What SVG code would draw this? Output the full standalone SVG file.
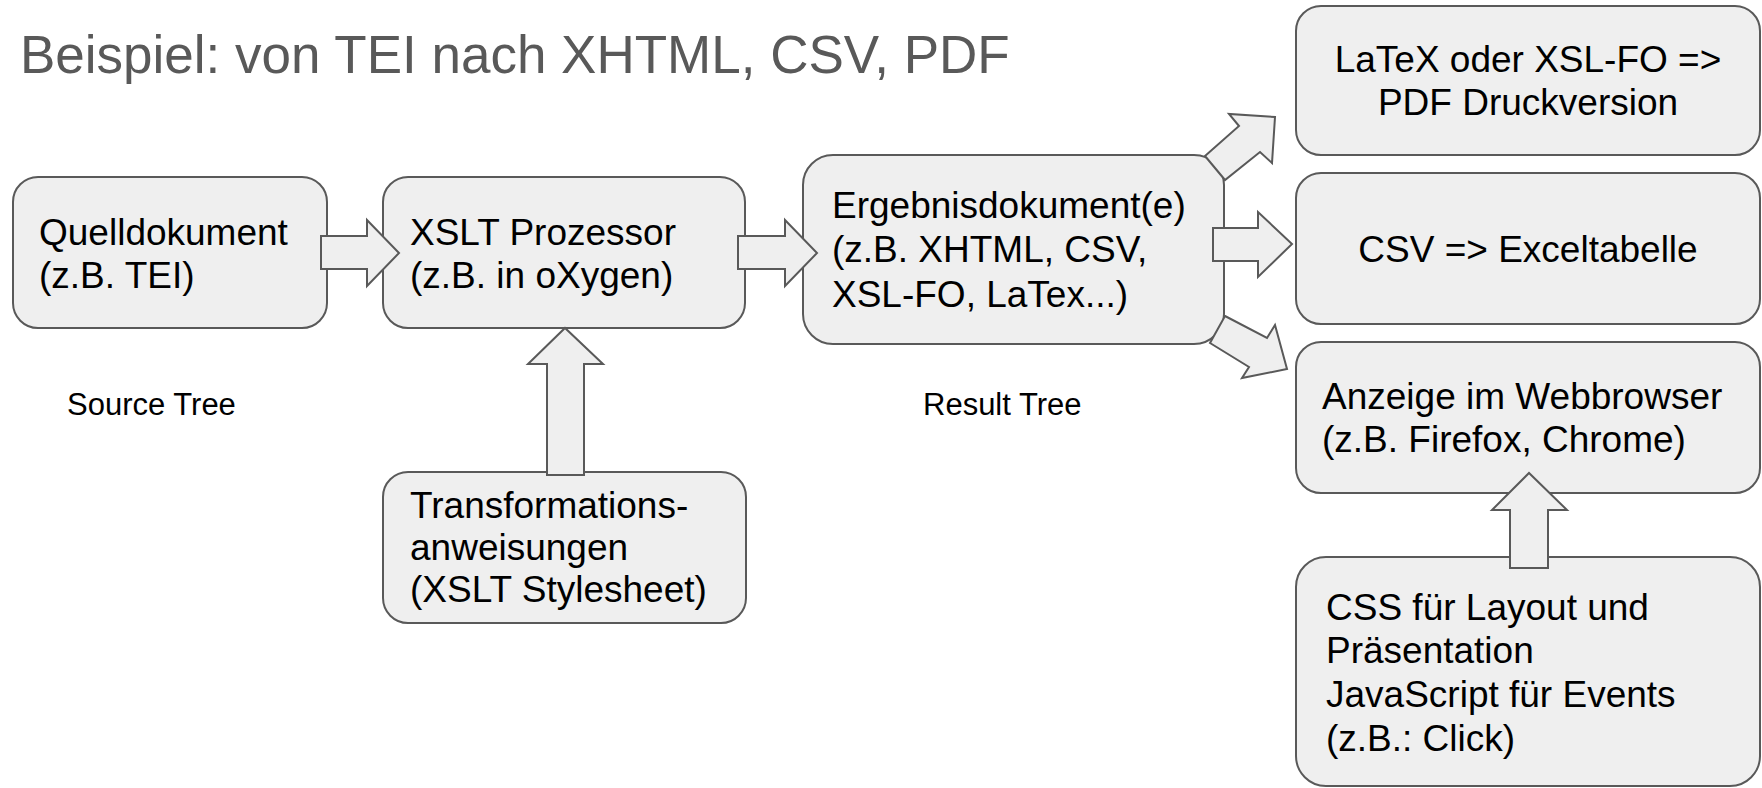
<svg xmlns="http://www.w3.org/2000/svg" width="1762" height="788" viewBox="0 0 1762 788">
<style>
.box{fill:#efefef;stroke:#595959;stroke-width:2}
.arr{fill:#efefef;stroke:#595959;stroke-width:2;stroke-linejoin:miter}
.t{font-family:"Liberation Sans",Arial,sans-serif;font-size:37px;fill:#000}
.c{text-anchor:middle}
.lbl{font-family:"Liberation Sans",Arial,sans-serif;font-size:31px;fill:#000}
.title{font-family:"Liberation Sans",Arial,sans-serif;font-size:53px;fill:#595959}
</style>
<rect width="1762" height="788" fill="#ffffff"/>
<text class="title" x="20" y="73">Beispiel: von TEI nach XHTML, CSV, PDF</text>
<g id="quelldokument">
<rect class="box" x="13" y="177" width="314" height="151" rx="25"/>
<text class="t" x="39" y="245">Quelldokument</text>
<text class="t" x="39" y="288">(z.B. TEI)</text>
</g>
<g id="xslt-prozessor">
<rect class="box" x="383" y="177" width="362" height="151" rx="25"/>
<text class="t" x="410" y="245">XSLT Prozessor</text>
<text class="t" x="410" y="288">(z.B. in oXygen)</text>
</g>
<g id="transformationsanweisungen">
<rect class="box" x="383" y="472" width="363" height="151" rx="25"/>
<text class="t" x="410" y="518">Transformations-</text>
<text class="t" x="410" y="560">anweisungen</text>
<text class="t" x="410" y="602">(XSLT Stylesheet)</text>
</g>
<g id="ergebnisdokument">
<rect class="box" x="803" y="155" width="421" height="189" rx="30"/>
<text class="t" x="832" y="218">Ergebnisdokument(e)</text>
<text class="t" x="832" y="262">(z.B. XHTML, CSV,</text>
<text class="t" x="832" y="307">XSL-FO, LaTex...)</text>
</g>
<g id="pdf">
<rect class="box" x="1296" y="6" width="464" height="149" rx="25"/>
<text class="t c" x="1528" y="72">LaTeX oder XSL-FO =&gt;</text>
<text class="t c" x="1528" y="115">PDF Druckversion</text>
</g>
<g id="csv">
<rect class="box" x="1296" y="173" width="464" height="151" rx="25"/>
<text class="t c" x="1528" y="262">CSV =&gt; Exceltabelle</text>
</g>
<g id="webbrowser">
<rect class="box" x="1296" y="342" width="464" height="151" rx="25"/>
<text class="t" x="1322" y="409">Anzeige im Webbrowser</text>
<text class="t" x="1322" y="452">(z.B. Firefox, Chrome)</text>
</g>
<g id="css-js">
<rect class="box" x="1296" y="557" width="464" height="229" rx="30"/>
<text class="t" x="1326" y="620">CSS für Layout und</text>
<text class="t" x="1326" y="663">Präsentation</text>
<text class="t" x="1326" y="707">JavaScript für Events</text>
<text class="t" x="1326" y="751">(z.B.: Click)</text>
</g>
<g id="labels">
<text class="lbl" x="67" y="415">Source Tree</text>
<text class="lbl" x="923" y="415">Result Tree</text>
</g>
<g id="connectors">
<polygon class="arr" points="321,236 367,236 367,220 399,253 367,286 367,269 321,269"/>
<polygon class="arr" points="738,236 785,236 785,220 817,253 785,286 785,269 738,269"/>
<polygon class="arr" points="547,475 547,364 528,364 565,328 603,364 584,364 584,475"/>
<polygon class="arr" points="1213,228 1258,228 1258,212 1292,244 1258,277 1258,261 1213,261"/>
<polygon class="arr" points="1205,156 1239,126 1229,114 1275,117 1272,163 1260,152 1225,180"/>
<polygon class="arr" points="1225,316 1267,338 1275,325 1287,369 1242,378 1249,367 1210,343"/>
<polygon class="arr" points="1510,568 1510,510 1492,510 1529,473 1567,510 1548,510 1548,568"/>
</g>
</svg>
